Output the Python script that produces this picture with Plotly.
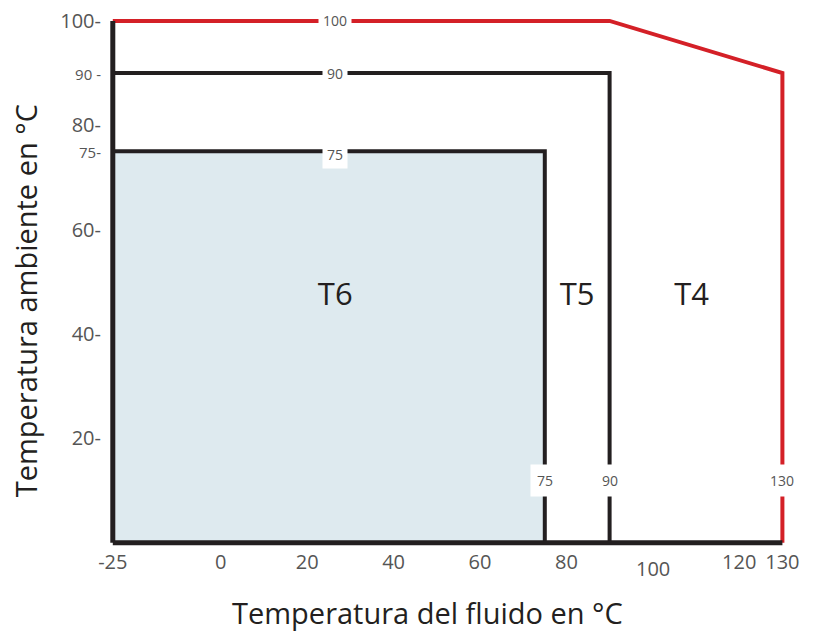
import plotly.graph_objects as go

# ---- data ----
x_min, x_max = -25, 130          # fluid temperature range (°C)
y_max = 100                      # ambient temperature max (°C)
t6_fluid, t6_amb = 75, 75        # T6 limits
t5_fluid, t5_amb = 90, 90        # T5 limits
t4_fluid, t4_amb_top, t4_amb_end = 130, 100, 90   # T4 limits
t4_knee = 90                     # fluid temp where T4 ambient limit starts to drop

zone_names = ["T6", "T5", "T4"]
zone_x = [26.5, 82.5, 109]
zone_y = [47, 47, 47]

x_tickvals = [-25, 0, 20, 40, 60, 80, 120, 130]
x_ticktext = ["-25", "0", "20", "40", "60", "80", "120", "130"]
y_tickvals = [20, 40, 60, 75, 80, 90, 100]
y_ticklabels = ["20-", "40-", "60-", "75-", "80-", "90 -", "100-"]
y_ticksizes = [20, 20, 20, 15, 20, 15, 20]

BLACK = "#231f20"
RED = "#d42027"
FILL = "#deeaef"
GRAY = "#555555"
FONT = "Open Sans"

fig = go.Figure()

# T6 filled region
fig.add_trace(go.Scatter(
    x=[x_min, t6_fluid, t6_fluid, x_min, x_min],
    y=[0, 0, t6_amb, t6_amb, 0],
    fill="toself", fillcolor=FILL, mode="lines",
    line=dict(width=0), hoverinfo="skip", showlegend=False))
# T6 boundary
fig.add_trace(go.Scatter(
    x=[x_min, t6_fluid, t6_fluid], y=[t6_amb, t6_amb, 0],
    mode="lines", line=dict(color=BLACK, width=4), showlegend=False))
# T5 boundary
fig.add_trace(go.Scatter(
    x=[x_min, t5_fluid, t5_fluid], y=[t5_amb, t5_amb, 0],
    mode="lines", line=dict(color=BLACK, width=4), showlegend=False))
# T4 boundary (red)
fig.add_trace(go.Scatter(
    x=[x_min, t4_knee, t4_fluid, t4_fluid], y=[t4_amb_top, t4_amb_top, t4_amb_end, 0],
    mode="lines", line=dict(color=RED, width=4), showlegend=False))
# axes frame lines
fig.add_trace(go.Scatter(
    x=[x_min, x_min], y=[0, y_max],
    mode="lines", line=dict(color=BLACK, width=5), showlegend=False))
fig.add_trace(go.Scatter(
    x=[x_min, x_max], y=[0, 0],
    mode="lines", line=dict(color=BLACK, width=5), showlegend=False))

# zone labels
fig.add_trace(go.Scatter(
    x=zone_x, y=zone_y, text=zone_names, mode="text",
    textfont=dict(family=FONT, size=31, color=BLACK), showlegend=False))

ann = []
label_x = 26.5
for val in [t4_amb_top, t5_amb, t6_amb]:
    ann.append(dict(x=label_x, y=val, text=str(val), showarrow=False,
                    font=dict(family=FONT, size=14, color=GRAY),
                    bgcolor="white", borderpad=4,
                    yshift=-3 if val == t6_amb else 0))
for val in [t6_fluid, t5_fluid, t4_fluid]:
    ann.append(dict(x=val, y=12, text=str(val), showarrow=False,
                    font=dict(family=FONT, size=14, color=GRAY),
                    bgcolor="white", borderpad=6))
# "100" x tick label (drawn lower in original)
ann.append(dict(x=100, y=0, text="100", showarrow=False, yanchor="top",
                yshift=-10, font=dict(family=FONT, size=20, color=GRAY)))
# axis titles
ann.append(dict(x=0.463, xref="paper", y=-0.117, yref="paper", xanchor="center",
                yanchor="middle", text="Temperatura del fluido en °C", showarrow=False,
                font=dict(family=FONT, size=29, color=BLACK)))
ann.append(dict(x=-0.1097, xref="paper", y=0.452, yref="paper", textangle=-90,
                xanchor="center", yanchor="middle",
                text="Temperatura ambiente en °C", showarrow=False,
                font=dict(family=FONT, size=29, color=BLACK)))

y_ticktext = [f'<span style="font-size:{s}px">{t}</span>' for t, s in zip(y_ticklabels, y_ticksizes)]

fig.update_layout(
    width=817, height=634,
    margin=dict(l=102, r=13, t=0, b=86),
    plot_bgcolor="white", paper_bgcolor="white",
    annotations=ann,
    xaxis=dict(range=[-27.5, 135], tickvals=x_tickvals, ticktext=x_ticktext,
               showgrid=False, zeroline=False, showline=False, ticks="",
               tickfont=dict(family=FONT, size=20, color=GRAY)),
    yaxis=dict(range=[-1, 104], tickvals=y_tickvals, ticktext=y_ticktext,
               showgrid=False, zeroline=False, showline=False, ticks="",
               tickfont=dict(family=FONT, size=20, color=GRAY)),
)

fig.write_html("out.html")
